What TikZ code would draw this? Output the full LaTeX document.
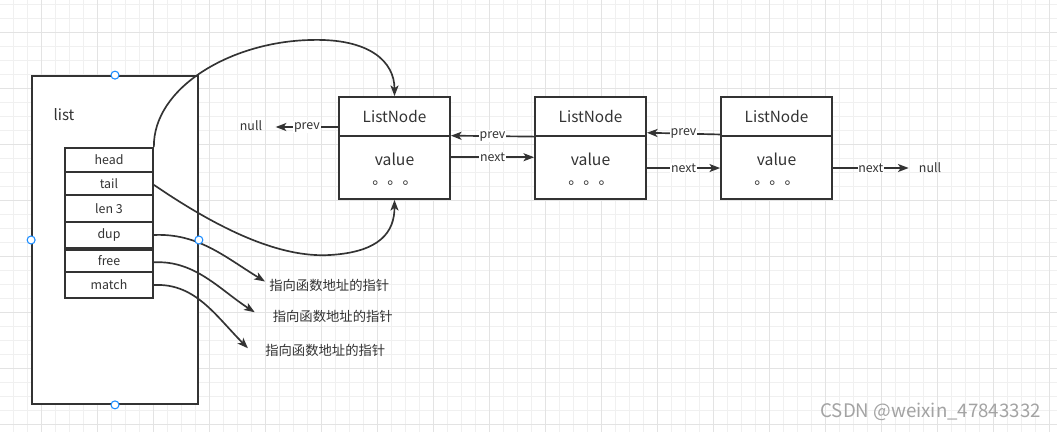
\documentclass[tikz,border=0pt]{standalone}
\usepackage{fontspec}
\setmainfont{Noto Sans CJK SC}
\usetikzlibrary{arrows.meta}
\definecolor{ln}{HTML}{333333}
\definecolor{gminor}{HTML}{F0F0F0}
\definecolor{gmajor}{HTML}{E3E3E3}
\definecolor{handle}{HTML}{1A8CFF}
\definecolor{wm}{HTML}{A3A3A3}
\tikzset{
  box/.style={draw=ln,line width=1.3pt,fill=white,inner sep=0pt,text=ln},
  field/.style={box,minimum width=66pt,font=\fontsize{9.3}{10}\selectfont},
  lnode/.style={box,minimum width=83.25pt},
  txt/.style={inner sep=0pt,text=ln},
  lbl/.style={fill=white,inner sep=0.6pt,text=ln,font=\fontsize{9.3}{10}\selectfont},
  arr/.style={draw=ln,line width=1.25pt,-{Stealth[length=8pt,width=6pt,inset=2pt]}},
  hnd/.style={circle,draw=handle,fill=white,line width=0.8pt,minimum size=6pt,inner sep=0pt},
}
\begin{document}
\begin{tikzpicture}[x=0.75pt,y=-0.75pt]
\fill[white] (0,0) rectangle (1057,432);
\useasboundingbox (0,0) rectangle (1057,432);
% grid
\foreach \i in {0,...,76} \draw[gminor,line width=0.75pt] ({-0.7+14*\i},0) -- ({-0.7+14*\i},432);
\foreach \i in {0,...,31} \draw[gminor,line width=0.75pt] (0,{4+14*\i}) -- (1057,{4+14*\i});
\foreach \i in {0,...,19} \draw[gmajor,line width=0.75pt] ({-14.7+56*\i},0) -- ({-14.7+56*\i},432);
\foreach \i in {0,...,7} \draw[gmajor,line width=0.75pt] (0,{32+56*\i}) -- (1057,{32+56*\i});

% list structure
\node[box,minimum width=124.5pt,minimum height=246pt] (list) at (115,240) {};
\node[txt,font=\fontsize{11.3}{12}\selectfont] (listlbl) at (64,115) {list};
\node[field,minimum height=18pt]    (fhead)  at (109,160)   {head};
\node[field,minimum height=17.25pt] (ftail)  at (109,183.5) {tail};
\node[field,minimum height=20.25pt] (flen)   at (109,208.5) {len 3};
\node[field,minimum height=19.5pt]  (fdup)   at (109,235)   {dup};
\node[field,minimum height=16.5pt]  (ffree)  at (109,261)   {free};
\node[field,minimum height=19.5pt]  (fmatch) at (109,285)   {match};

% list nodes
\foreach \n/\x in {1/394.5,2/590.5,3/776.5}{
  \node[lnode,minimum height=29.25pt,font=\fontsize{11.5}{12}\selectfont] (n\n h) at (\x,116.5) {ListNode};
  \node[lnode,minimum height=47.25pt] (n\n b) at (\x,167.5) {};
  \node[txt,font=\fontsize{11.8}{12}\selectfont] (v\n) at (\x,159) {value};
  \node[txt,anchor=base,font=\fontsize{11.3}{12}\selectfont] (d\n) at (\x+0.5,184) {。。。};
}

% nulls
\node[txt,font=\fontsize{9.3}{10}\selectfont] (null1) at (251,126) {null};
\node[txt,font=\fontsize{9.3}{10}\selectfont] (null2) at (930,168) {null};

% prev / next connectors
\draw[arr] ([yshift=-7.9pt]n1h.west) -- node[lbl]{prev} ([xshift=10pt,yshift=-0.75pt]null1.east);
\draw[arr] ([yshift=-1.1pt]n2b.north west) -- node[lbl]{prev} ([yshift=-0.4pt]n1b.north east);
\draw[arr] ([yshift=7.7pt]n1b.east) -- node[lbl]{next} ([yshift=7.7pt]n2b.west);
\draw[arr] ([yshift=0.5pt]n3b.north west) -- node[lbl]{prev} ([yshift=1.8pt]n2b.north east);
\draw[arr] ([yshift=-0.4pt]n2b.east) -- node[lbl]{next} ([yshift=-0.4pt]n3b.west);
\draw[arr] ([yshift=-0.4pt]n3b.east) -- node[lbl]{next} ([xshift=-7.5pt]null2.west);

% function pointer labels
\node[txt,anchor=west,font=\fontsize{10}{11}\selectfont] (p1) at (269,285.5) {指向函数地址的指针};
\node[txt,anchor=west,font=\fontsize{10}{11}\selectfont] (p2) at (272.5,316) {指向函数地址的指针};
\node[txt,anchor=west,font=\fontsize{10}{11}\selectfont] (p3) at (265,350) {指向函数地址的指针};

% curved connectors
\draw[arr] (fhead.north east) .. controls (153,88) and (230,42) .. (310,40)
           .. controls (370,38) and (394.5,62) .. (n1h.north);
\draw[arr] ([yshift=-1pt]ftail.east) .. controls (220,230) and (280,258) .. (330,255)
           .. controls (380,252) and (394.5,232) .. (n1b.south);
\draw[arr] (fdup.east) .. controls (198,233) and (225,257) .. ([shift={(-3pt,3pt)}]p1.west);
\draw[arr] ([yshift=-1pt]ffree.east) .. controls (195,260) and (220,290) .. ([shift={(-13.3pt,2.8pt)}]p2.west);
\draw[arr] (fmatch.east) .. controls (195,283) and (215,315) .. ([shift={(-12.8pt,1.3pt)}]p3.west);

% selection handles
\node[hnd] (h1) at (list.north) {};
\node[hnd] (h2) at (list.west) {};
\node[hnd] (h3) at (list.east) {};
\node[hnd] (h4) at (list.south) {};

% watermark
\node[inner sep=0pt,anchor=east,text=wm,font=\fontsize{14}{15}\selectfont] (wmk) at (1041,412) {CSDN @weixin\_47843332};
\end{tikzpicture}
\end{document}
